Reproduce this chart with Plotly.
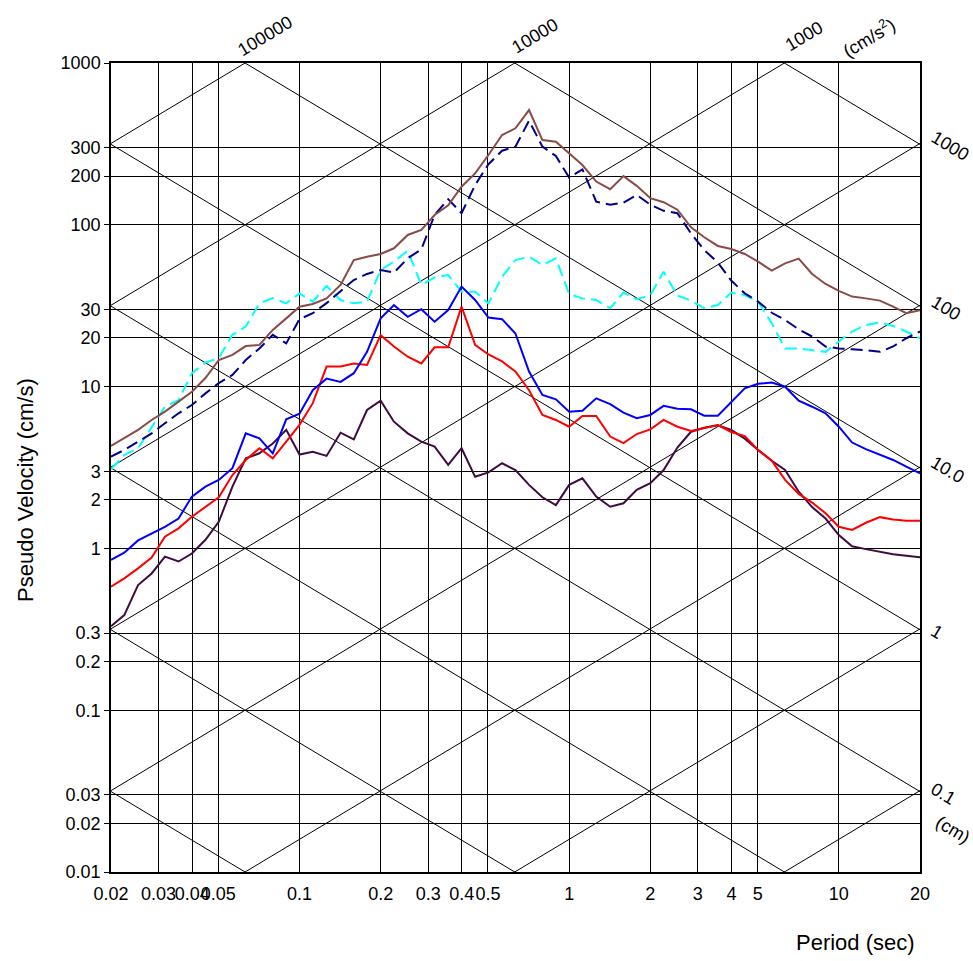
import numpy as np
import plotly.graph_objects as go

# ---------------- data ----------------
periods = [0.02, 0.0224, 0.0252, 0.0283, 0.0317, 0.0356, 0.0399, 0.0448, 0.0502, 0.0564,
           0.0632, 0.0710, 0.0796, 0.0893, 0.100, 0.112, 0.126, 0.142, 0.159, 0.178,
           0.200, 0.224, 0.252, 0.283, 0.317, 0.356, 0.399, 0.448, 0.502, 0.564,
           0.632, 0.710, 0.796, 0.893, 1.00, 1.12, 1.26, 1.42, 1.59, 1.78,
           2.00, 2.24, 2.52, 2.83, 3.17, 3.56, 3.99, 4.48, 5.02, 5.64,
           6.32, 7.10, 7.96, 8.93, 10.0, 11.2, 12.6, 14.2, 15.9, 17.8, 20.0]

psv_brown = [4.3, 4.79, 5.40, 6.22, 7.0, 8.07, 9.3, 11.3, 14.6, 15.7,
             17.8, 18.1, 22.4, 26.4, 31.2, 32.4, 35.1, 42.5, 60.5, 63.5,
             66.0, 71.6, 86.5, 92.9, 115, 132, 172, 208, 270, 359,
             395, 512, 334, 326, 277, 234, 185, 166, 200, 174,
             146, 138, 124, 96.4, 83.7, 74.0, 70.9, 66.0, 59.2, 52.1,
             57.8, 61.8, 49.7, 43.1, 39.0, 36.0, 35.1, 34.0, 31.2, 28.4, 29.7]

psv_navy = [3.69, 4.06, 4.57, 5.14, 5.93, 6.84, 7.69, 9.08, 10.5, 11.8,
            14.6, 17.2, 20.9, 18.5, 26.1, 28.4, 32.8, 38.6, 45.6, 49.7,
            52.6, 50.6, 62.1, 70.5, 115, 144, 118, 176, 237, 287,
            304, 440, 304, 266, 196, 220, 139, 133, 137, 153,
            133, 122, 118, 88.5, 69.8, 58.4, 45.2, 37.7, 33.5, 28.6,
            25.8, 22.6, 20.4, 17.7, 17.2, 17.0, 16.8, 16.4, 17.7, 19.9, 21.9]

psv_cyan = [3.08, 3.78, 4.16, 5.65, 7.51, 8.26, 12.1, 14.1, 15.0, 20.9,
            23.5, 32.7, 35.2, 32.7, 37.7, 33.5, 41.9, 34.3, 32.7, 33.5,
            52.6, 59.2, 69.2, 42.5, 47.3, 48.9, 38.6, 38.6, 32.7, 47.8,
            60.5, 63.5, 56.5, 62.0, 37.3, 35.1, 34.3, 30.5, 38.1, 34.6,
            36.8, 51.2, 36.5, 34.0, 30.5, 31.9, 38.1, 36.8, 33.5, 24.6,
            17.2, 17.2, 16.8, 16.4, 19.0, 21.9, 24.0, 24.9, 23.7, 21.9, 19.9]

psv_blue = [0.848, 0.94, 1.12, 1.23, 1.36, 1.53, 2.09, 2.41, 2.65, 3.13,
            5.14, 4.79, 3.87, 6.28, 6.8, 9.5, 11.2, 10.7, 12.1, 16.4,
            26.4, 31.9, 27.0, 30.1, 25.2, 29.7, 41.5, 34.3, 26.7, 26.1,
            21.3, 12.4, 8.87, 8.34, 7.0, 7.1, 8.46, 7.8, 6.9, 6.37,
            6.68, 7.6, 7.3, 7.24, 6.61, 6.61, 8.07, 9.75, 10.4, 10.6,
            9.98, 8.18, 7.51, 6.84, 5.65, 4.51, 4.11, 3.78, 3.52, 3.20, 2.91]

psv_red = [0.58, 0.653, 0.753, 0.877, 1.18, 1.33, 1.57, 1.81, 2.07, 2.84,
           3.52, 4.16, 3.60, 4.57, 5.8, 7.9, 13.3, 13.3, 13.9, 13.6,
           20.8, 17.7, 15.3, 13.9, 17.5, 17.5, 31.2, 18.1, 15.8, 14.3,
           12.4, 9.5, 6.68, 6.22, 5.65, 6.58, 6.58, 4.91, 4.47, 5.09,
           5.44, 6.22, 5.65, 5.32, 5.52, 5.79, 5.24, 4.95, 4.06, 3.48,
           2.65, 2.17, 1.92, 1.65, 1.36, 1.30, 1.44, 1.56, 1.51, 1.48, 1.48]

psv_purple = [0.33, 0.387, 0.594, 0.70, 0.89, 0.83, 0.93, 1.13, 1.46, 2.41,
              3.60, 3.87, 4.45, 5.40, 3.8, 3.96, 3.73, 5.19, 4.72, 7.17,
              8.18, 6.07, 5.14, 4.57, 4.26, 3.28, 4.16, 2.77, 2.95, 3.36,
              3.05, 2.47, 2.07, 1.85, 2.47, 2.71, 2.09, 1.81, 1.90, 2.30,
              2.53, 3.05, 4.2, 5.26, 5.57, 5.76, 5.40, 4.77, 4.06, 3.48,
              3.05, 2.24, 1.80, 1.53, 1.21, 1.03, 0.99, 0.95, 0.92, 0.90, 0.88]

x_tick_vals = [0.02, 0.03, 0.04, 0.05, 0.1, 0.2, 0.3, 0.4, 0.5, 1, 2, 3, 4, 5, 10, 20]
x_tick_text = ["0.02", "0.03", "0.04", "0.05", "0.1", "0.2", "0.3", "0.4", "0.5",
               "1", "2", "3", "4", "5", "10", "20"]
y_tick_vals = [0.01, 0.02, 0.03, 0.1, 0.2, 0.3, 1, 2, 3, 10, 20, 30, 100, 200, 300, 1000]
y_tick_text = ["0.01", "0.02", "0.03", "0.1", "0.2", "0.3", "1", "2", "3",
               "10", "20", "30", "100", "200", "300", "1000"]

accel_lines = [0.01, 0.1, 1, 10, 100, 1000, 10000, 100000]        # cm/s^2
disp_lines = [0.0001, 0.001, 0.01, 0.1, 1, 10, 100, 1000]         # cm
accel_labels = [(100000, "100000"), (10000, "10000"), (1000, "1000")]
disp_labels = [(1000, "1000"), (100, "100"), (10, "10.0"), (1, "1"), (0.1, "0.1")]

T_MIN, T_MAX = 0.02, 20.0
V_MIN, V_MAX = 0.01, 1000.0

FONT = "Liberation Sans, Arial, Helvetica, sans-serif"

fig = go.Figure()

# tripartite diagonal lines
t_span = np.array([T_MIN, T_MAX])
for a in accel_lines:
    fig.add_trace(go.Scatter(x=t_span, y=a * t_span / (2 * np.pi), mode="lines",
                             line=dict(color="black", width=1), hoverinfo="skip"))
for d in disp_lines:
    fig.add_trace(go.Scatter(x=t_span, y=2 * np.pi * d / t_span, mode="lines",
                             line=dict(color="black", width=1), hoverinfo="skip"))

series = [
    (psv_cyan, "#00FFFF", "12px,6px"),
    (psv_purple, "#400A40", "solid"),
    (psv_red, "#FF0000", "solid"),
    (psv_blue, "#0000FF", "solid"),
    (psv_navy, "#00008B", "12px,6px"),
    (psv_brown, "#8C4A46", "solid"),
]
for vals, col, dash in series:
    fig.add_trace(go.Scatter(x=periods, y=vals, mode="lines",
                             line=dict(color=col, width=2, dash=dash)))

fig.update_xaxes(type="log", range=[np.log10(T_MIN), np.log10(T_MAX)],
                 tickmode="array", tickvals=x_tick_vals, ticktext=x_tick_text,
                 tickangle=0,
                 showgrid=True, gridcolor="black", gridwidth=1,
                 showline=True, linecolor="black", linewidth=1.5, mirror=True,
                 ticks="outside", ticklen=5, tickcolor="rgba(0,0,0,0)",
                 zeroline=False, tickfont=dict(size=18))
fig.update_yaxes(type="log", range=[np.log10(V_MIN), np.log10(V_MAX)],
                 tickmode="array", tickvals=y_tick_vals, ticktext=y_tick_text,
                 showgrid=True, gridcolor="black", gridwidth=1,
                 showline=True, linecolor="black", linewidth=1.5, mirror=True,
                 ticks="outside", ticklen=5, tickcolor="black",
                 zeroline=False, tickfont=dict(size=18))

annotations = []
# acceleration labels along the top
for a, txt in accel_labels:
    t_top = 2 * np.pi * V_MAX / a
    annotations.append(dict(x=np.log10(t_top), y=1, xref="x", yref="paper",
                            text=txt, showarrow=False, textangle=-31,
                            xanchor="center", yanchor="middle",
                            xshift=20, yshift=27, font=dict(size=18)))
annotations.append(dict(x=np.log10(2 * np.pi * V_MAX / 1000), y=1, xref="x", yref="paper",
                        text="(cm/s<sup>2</sup>)", showarrow=False, textangle=-31,
                        xanchor="center", yanchor="middle",
                        xshift=84, yshift=26, font=dict(size=18)))
# displacement labels along the right
for d, txt in disp_labels:
    v_right = 2 * np.pi * d / T_MAX
    annotations.append(dict(x=1, y=np.log10(v_right), xref="paper", yref="y",
                            text=txt, showarrow=False, textangle=31,
                            xanchor="left", yanchor="middle",
                            xshift=5, yshift=-2, font=dict(size=18)))
annotations.append(dict(x=1, y=np.log10(2 * np.pi * 0.1 / T_MAX), xref="paper", yref="y",
                        text="(cm)", showarrow=False, textangle=31,
                        xanchor="left", yanchor="middle",
                        xshift=10, yshift=-38, font=dict(size=18)))
# axis titles
plot_w, plot_h = 973 - 111 - 53, 961 - 63 - 89
annotations.append(dict(x=(25 - 111) / plot_w, y=(961 - 89 - 490) / plot_h,
                        xref="paper", yref="paper", text="Pseudo Velocity (cm/s)",
                        xanchor="center", yanchor="middle",
                        showarrow=False, textangle=-90, font=dict(size=22)))
annotations.append(dict(x=1, y=0, xref="paper", yref="paper", text="Period (sec)",
                        showarrow=False, xanchor="right", yanchor="middle",
                        xshift=-3, yshift=-70, font=dict(size=22)))

fig.update_layout(
    width=973, height=961,
    margin=dict(l=111, r=53, t=63, b=89, autoexpand=False),
    plot_bgcolor="white", paper_bgcolor="white",
    showlegend=False,
    font=dict(family=FONT, size=18, color="black"),
    annotations=annotations,
)

fig.write_html("out.html", config={"displayModeBar": False},
               post_script="document.body.style.margin='0px';")
